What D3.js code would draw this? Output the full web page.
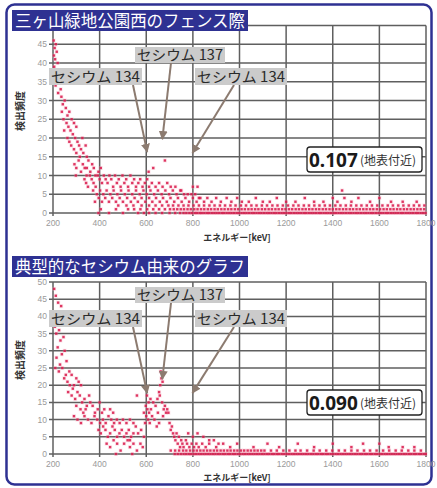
<!DOCTYPE html>
<html>
<head>
<meta charset="utf-8">
<script src="https://cdn.jsdelivr.net/npm/d3@7"></script>
<style>
  body { margin: 0; background: #fff; }
  svg { display: block; }
</style>
</head>
<body>
<div id="chart"></div>
<script>
// axis ticks
var xTicks = [200, 400, 600, 800, 1000, 1200, 1400, 1600, 1800];
var yTicks = [0, 5, 10, 15, 20, 25, 30, 35, 40, 45, 50];

// titles and labels
var panelTitles = ["三ヶ山緑地公園西のフェンス際", "典型的なセシウム由来のグラフ"];
var doseValues = ["0.107", "0.090"];
var doseNote = "(地表付近)";
var isotopeLabels = ["セシウム 134", "セシウム 137", "セシウム 134"];
// arrow tips [keV, count] for each panel
var fenceArrows = [[604, 16.3], [669, 19.7], [798, 16]];
var typicalArrows = [[604, 17.7], [669, 21.8], [798, 17.7]];

// fence spectrum: scattered points [keV, count]
var fenceScatter = [
  [203,46],[207,44],[212,45],[204,42],[216,43],[209,41],[220,40],[205,39],[213,38],[224,38],
  [208,36],[218,35],[228,36],[211,34],[233,33],[222,32],
  [236,31],[242,29],[250,30],[238,27],[255,28],[262,26],[245,25],[270,27],[258,24],[280,25],
  [266,23],[248,22],[290,24],[275,22],[300,23],
  [262,20],[270,19],[285,21],[278,18],[295,20],[290,17],[305,19],[300,16],[312,18],[320,17],
  [330,16],[315,15],[340,18],[326,20],[345,15],
  [292,13],[300,12],[310,14],[320,11],[328,13],[336,12],[344,10],[352,14],[360,11],[368,13],
  [375,12],[382,10],[395,11],[405,12],[298,10],[345,12],
  [335,9],[342,8],[350,7],[358,10],[366,9],[374,8],[383,7],[392,10],[400,9],[410,8],[418,10],
  [426,9],[434,8],[442,10],[450,9],[458,7],[466,10],[474,8],[482,9],[490,7],[498,10],[506,8],
  [514,9],[522,7],[532,10],[540,8],[548,9],[556,7],[566,8],[574,9],[584,7],[594,8],[604,9],
  [612,7],[624,8],[640,7],[655,8],[670,7],[690,8],[705,7],[725,7],[750,6],[800,7],[610,11],
  [630,12],[680,14],
  [372,6],[388,5],[402,6],[416,5],[430,6],[446,5],[460,6],[476,5],[492,6],[508,5],[524,6],
  [540,5],[556,6],[572,5],[588,6],[602,5],[618,6],[634,5],[650,6],[666,5],[682,6],[698,5],
  [714,6],[730,5],[746,6],[762,5],[778,5],[794,5],[810,5],[826,4],
  [380,3],[396,4],[410,3],[424,4],[440,3],[454,4],[470,3],[486,4],[500,3],[518,4],[534,3],
  [550,4],[564,3],[580,4],[596,3],[612,4],[626,3],[642,4],[658,3],[672,4],[688,3],[704,4],
  [720,3],[736,4],[752,3],[768,4],[784,3],[800,4],[816,3],[832,4],[848,3],[862,4],[880,3],
  [900,4],[920,3],[945,4],[965,3],[990,4],[1010,3],[1040,3],[1070,4],[1100,3],[1130,3],
  [1160,4],[1200,3],[1240,3],[1280,4],[1320,3],[1360,3],[1400,4],[1420,3],[1450,4],[1480,3],
  [1510,4],[1560,3],[1600,4],[1650,3],[1700,3],[1760,3],
  [395,0],[405,1],[440,0],[470,1],[500,0],[820,7],[1440,6]
];
// fence spectrum: dense rows at low counts (keV)
var fenceRow0 = [565,590,612,640,668,700,724,745,760,772,785,796,808,818,829,838,849,860,870,881,
  892,902,913,924,934,945,956,966,977,988,998,1009,1020,1030,1041,1052,1062,1073,1084,1094,1105,
  1116,1126,1137,1148,1158,1169,1180,1190,1201,1212,1222,1233,1244,1254,1265,1276,1286,1297,1308,
  1318,1329,1340,1350,1361,1372,1382,1393,1404,1414,1425,1436,1446,1457,1468,1478,1489,1500,1510,
  1521,1532,1542,1553,1564,1574,1585,1596,1606,1617,1628,1638,1649,1660,1670,1681,1692,1702,1713,
  1724,1734,1745,1756,1766,1777,1788,1798];
var fenceRow1 = [522,548,575,604,630,655,680,702,718,733,748,762,777,791,806,820,835,849,864,878,
  893,907,922,936,951,965,980,994,1009,1023,1038,1052,1067,1081,1096,1110,1125,1139,1154,1168,
  1183,1197,1212,1226,1241,1255,1270,1284,1299,1313,1328,1342,1357,1371,1386,1400,1415,1429,1444,
  1458,1473,1487,1502,1516,1531,1545,1560,1574,1589,1603,1618,1632,1647,1661,1676,1690,1705,1719,
  1734,1748,1763,1777,1792];
var fenceRow2 = [480,515,545,580,612,640,668,695,715,738,760,781,803,826,848,871,893,916,938,961,
  983,1006,1028,1051,1073,1096,1118,1141,1163,1186,1208,1231,1253,1276,1298,1321,1343,1366,1388,
  1411,1433,1456,1478,1501,1523,1546,1568,1591,1613,1636,1658,1681,1703,1726,1748,1771,1793];

// typical cesium spectrum: scattered points [keV, count]
var typicalScatter = [
  [205,48],[212,46],[222,44],[235,43],[228,41],[218,40],[240,39],[208,37],[226,36],[214,35],
  [245,34],[232,33],[220,31],[250,30],[238,29],[215,28],[258,27],[230,26],
  [210,25],[225,24],[240,25],[255,23],[270,24],[248,22],[262,21],[280,23],[290,20],[300,22],
  [272,20],[310,21],[320,20],[285,19],
  [265,18],[280,17],[295,16],[305,18],[315,17],[325,15],[335,16],[345,14],[355,17],[300,14],
  [318,13],[330,12],[340,13],[360,15],[370,14],[380,12],[392,13],[400,15],[410,12],[420,13],
  [445,13],[458,12],
  [290,11],[305,10],[320,9],[335,11],[350,10],[365,9],[378,11],[390,10],[402,9],[414,10],
  [426,9],[438,11],[450,10],[462,9],[474,10],[486,9],[500,10],[515,9],[530,10],[545,9],
  [395,7],[405,6],[415,8],[425,7],[435,5],[445,6],[455,8],[465,7],[475,5],[485,6],[495,7],
  [505,5],[515,6],[525,7],[535,5],[545,6],[555,8],[565,6],[578,7],[590,5],
  [430,3],[445,2],[460,4],[475,3],[490,1],[505,3],[520,4],[530,2],[545,3],[560,1],[575,3],
  [585,2],[470,0],[540,0],
  [595,9],[600,11],[605,13],[610,15],[603,17],[598,14],[612,12],[608,10],[590,12],[615,9],
  [620,13],[625,11],[618,16],
  [640,14],[648,16],[655,18],[660,20],[665,22],[670,21],[662,24],[658,17],[668,15],[675,13],
  [680,14],[685,12],[690,13],[695,12],[672,11],[650,12],[635,10],[645,8],[630,15],[655,9],
  [560,17],[530,4],
  [700,9],[705,7],[710,8],[715,6],[720,5],[725,4],[730,6],[735,3],[740,5],[745,2],[750,4],
  [755,3],[760,2],[770,4],[775,3],[785,2],[795,3],[805,2],[815,3],[825,2],[840,3],[855,2],
  [870,3],[900,2],[930,3],[960,2],[990,3],[1060,2],[1120,3],[1170,2],[1250,3],[1320,2],
  [1400,3],[1480,2],[1530,3],[1600,3],[1640,2],[1700,2],[1750,2],
  [780,6],[800,5],[820,6],[845,5],[870,4],[890,4],[910,3]
];
// typical spectrum: dense rows at low counts (keV)
var typicalRow0 = [722,735,748,760,771,782,792,803,813,824,834,845,855,866,876,887,897,908,918,929,
  939,950,960,971,981,992,1002,1013,1023,1034,1044,1055,1065,1076,1086,1097,1107,1118,1128,1139,
  1149,1160,1170,1181,1191,1202,1212,1223,1233,1244,1254,1265,1275,1286,1296,1307,1317,1328,1338,
  1349,1359,1370,1380,1391,1401,1412,1422,1433,1443,1454,1464,1475,1485,1496,1506,1517,1527,1538,
  1548,1559,1569,1580,1590,1601,1611,1622,1632,1643,1653,1664,1674,1685,1695,1706,1716,1727,1737,
  1748,1758,1769,1779,1790,1799];
var typicalRow1 = [705,724,741,758,772,788,803,817,832,846,861,875,890,904,919,933,948,962,977,991,
  1006,1020,1035,1049,1064,1078,1093,1107,1135,1160,1188,1214,1240,1262,1290,1318,1344,1372,1398,
  1426,1452,1480,1506,1534,1560,1588,1616,1642,1670,1696,1724,1750,1778];

// init size
var width = 437;
var height = 488;
var navy = "#2e3192";
var arrowColor = "#8c7b70";
var dotColor = "#d8174a";
var cjkFont = "'Noto Sans CJK JP', 'Noto Sans', sans-serif";

// init scale
var xScale = d3.scaleLinear()
    .domain([200, 1800])
    .range([53, 426]);

// init svg
var svg = d3.select("#chart")
    .append("svg")
    .attr("width", width)
    .attr("height", height);

svg.append("defs")
    .append("marker")
    .attr("id", "arrowhead")
    .attr("viewBox", "0 0 10 10")
    .attr("refX", 9)
    .attr("refY", 5)
    .attr("markerWidth", 4.5)
    .attr("markerHeight", 4.5)
    .attr("orient", "auto")
    .append("path")
    .attr("d", "M0,0 L10,5 L0,10 Z")
    .attr("fill", arrowColor);

// outer frame
svg.append("rect")
    .attr("x", 6.5)
    .attr("y", 4.5)
    .attr("width", 425)
    .attr("height", 480)
    .attr("rx", 8)
    .attr("fill", "#fff")
    .attr("stroke", navy)
    .attr("stroke-width", 2.5);

// panels
createPanel({
    title: panelTitles[0],
    titleY: 10,
    plotTop: 25.5,
    plotBottom: 213,
    maxTickLabel: 45,
    tickLabelY: 226,
    axisLabelY: 241,
    yLabelY: 111,
    box137Y: 47,
    box134Y: 68,
    valueY: 147,
    value: doseValues[0],
    arrows: fenceArrows,
    points: fenceScatter
        .concat(fenceRow2.map(e => [e, 2]))
        .concat(fenceRow1.map(e => [e, 1]))
        .concat(fenceRow0.map(e => [e, 0]))
});

createPanel({
    title: panelTitles[1],
    titleY: 256,
    plotTop: 282,
    plotBottom: 454,
    maxTickLabel: 50,
    tickLabelY: 467,
    axisLabelY: 481,
    yLabelY: 360,
    box137Y: 287,
    box134Y: 310,
    valueY: 390,
    value: doseValues[1],
    arrows: typicalArrows,
    points: typicalScatter
        .concat(typicalRow1.map(e => [e, 1]))
        .concat(typicalRow0.map(e => [e, 0]))
});

function createPanel(cfg) {

    var yScale = d3.scaleLinear()
        .domain([0, 50])
        .range([cfg.plotBottom, cfg.plotTop]);

    var g = svg.append("g")
        .attr("class", "panel");

    // grid
    var grid = g.append("g")
        .attr("class", "grid")
        .attr("stroke", "#444")
        .attr("stroke-width", 1.5)
        .attr("opacity", 0.85);

    grid.selectAll("line.h")
        .data(yTicks)
        .enter().append("line")
        .attr("class", "h")
        .attr("x1", xScale(200) - 4)
        .attr("x2", xScale(1800))
        .attr("y1", d => yScale(d))
        .attr("y2", d => yScale(d));

    grid.selectAll("line.v")
        .data(xTicks)
        .enter().append("line")
        .attr("class", "v")
        .attr("x1", d => xScale(d))
        .attr("x2", d => xScale(d))
        .attr("y1", yScale(50))
        .attr("y2", yScale(0) + 3);

    // tick labels (the top one sits under the title box)
    g.selectAll("text.ytick")
        .data(yTicks.filter(d => d <= cfg.maxTickLabel))
        .enter().append("text")
        .attr("class", "ytick")
        .attr("x", xScale(200) - 6)
        .attr("y", d => yScale(d) + 3)
        .attr("text-anchor", "end")
        .attr("font-family", "'Liberation Sans', Arial, sans-serif")
        .attr("font-size", 8.5)
        .attr("fill", "#9a9a9a")
        .text(d => d);

    g.selectAll("text.xtick")
        .data(xTicks)
        .enter().append("text")
        .attr("class", "xtick")
        .attr("x", d => xScale(d))
        .attr("y", cfg.tickLabelY)
        .attr("text-anchor", "middle")
        .attr("font-family", "'Liberation Sans', Arial, sans-serif")
        .attr("font-size", 8.5)
        .attr("fill", "#9a9a9a")
        .text(d => d);

    // axis titles
    g.append("text")
        .attr("x", 237)
        .attr("y", cfg.axisLabelY)
        .attr("text-anchor", "middle")
        .attr("font-family", cjkFont)
        .attr("font-weight", "bold")
        .attr("font-size", 9)
        .attr("fill", "#333")
        .text("エネルギー[keV]");

    g.append("text")
        .attr("transform", "translate(24," + cfg.yLabelY + ") rotate(-90)")
        .attr("text-anchor", "middle")
        .attr("font-family", cjkFont)
        .attr("font-weight", "bold")
        .attr("font-size", 10)
        .attr("fill", "#333")
        .text("検出頻度");

    // points
    var dots = g.append("g")
        .attr("class", "dots");

    dots.selectAll("rect.halo")
        .data(cfg.points)
        .enter().append("rect")
        .attr("class", "halo")
        .attr("x", d => xScale(d[0]) - 2)
        .attr("y", d => yScale(d[1]) - 2)
        .attr("width", 4)
        .attr("height", 4)
        .attr("fill", "#f6aabd")
        .attr("opacity", 0.3);

    dots.selectAll("rect.dot")
        .data(cfg.points)
        .enter().append("rect")
        .attr("class", "dot")
        .attr("x", d => xScale(d[0]) - 1.2)
        .attr("y", d => yScale(d[1]) - 1.2)
        .attr("width", 2.4)
        .attr("height", 2.4)
        .attr("fill", dotColor)
        .attr("opacity", 0.85);

    // arrows
    var boxes = [
        {x: 49, y: cfg.box134Y, w: 93, h: 17, text: isotopeLabels[0], from: [133, cfg.box134Y + 17]},
        {x: 135, y: cfg.box137Y, w: 90, h: 16, text: isotopeLabels[1], from: [171, cfg.box137Y + 16]},
        {x: 195, y: cfg.box134Y, w: 92, h: 17, text: isotopeLabels[2], from: [234, cfg.box134Y + 17]}
    ];

    g.selectAll("line.arrow")
        .data(boxes)
        .enter().append("line")
        .attr("class", "arrow")
        .attr("x1", d => d.from[0])
        .attr("y1", d => d.from[1])
        .attr("x2", (d, i) => xScale(cfg.arrows[i][0]))
        .attr("y2", (d, i) => yScale(cfg.arrows[i][1]))
        .attr("stroke", arrowColor)
        .attr("stroke-width", 2)
        .attr("marker-end", "url(#arrowhead)");

    // isotope labels
    var label = g.selectAll("g.label")
        .data(boxes)
        .enter().append("g")
        .attr("class", "label");

    label.append("rect")
        .attr("x", d => d.x)
        .attr("y", d => d.y)
        .attr("width", d => d.w)
        .attr("height", d => d.h)
        .attr("fill", "#cbcbcb");

    label.append("text")
        .attr("x", d => d.x + 2)
        .attr("y", d => d.y + d.h - 3)
        .attr("font-family", cjkFont)
        .attr("font-size", 14)
        .attr("fill", "#2a2a2a")
        .attr("textLength", d => d.w - 4)
        .attr("lengthAdjust", "spacingAndGlyphs")
        .text(d => d.text);

    // dose box
    g.append("rect")
        .attr("x", 307)
        .attr("y", cfg.valueY)
        .attr("width", 115)
        .attr("height", 25)
        .attr("rx", 3)
        .attr("fill", "#fff")
        .attr("stroke", "#222")
        .attr("stroke-width", 1.3);

    var dose = g.append("text")
        .attr("x", 309)
        .attr("y", cfg.valueY + 20)
        .attr("fill", "#1a1a1a");

    dose.append("tspan")
        .attr("font-family", "'Noto Sans', 'Liberation Sans', sans-serif")
        .attr("font-weight", "bold")
        .attr("font-size", 19)
        .text(cfg.value);

    dose.append("tspan")
        .attr("x", 360)
        .attr("dy", -2)
        .attr("font-family", cjkFont)
        .attr("font-size", 12)
        .attr("fill", "#333")
        .text(doseNote);

    // title
    g.append("rect")
        .attr("x", 12)
        .attr("y", cfg.titleY)
        .attr("width", 236)
        .attr("height", 21)
        .attr("fill", navy);

    g.append("text")
        .attr("x", 15)
        .attr("y", cfg.titleY + 17)
        .attr("font-family", cjkFont)
        .attr("font-size", 16.5)
        .attr("fill", "#fff")
        .attr("textLength", 230)
        .attr("lengthAdjust", "spacingAndGlyphs")
        .text(cfg.title);
}
</script>
</body>
</html>
